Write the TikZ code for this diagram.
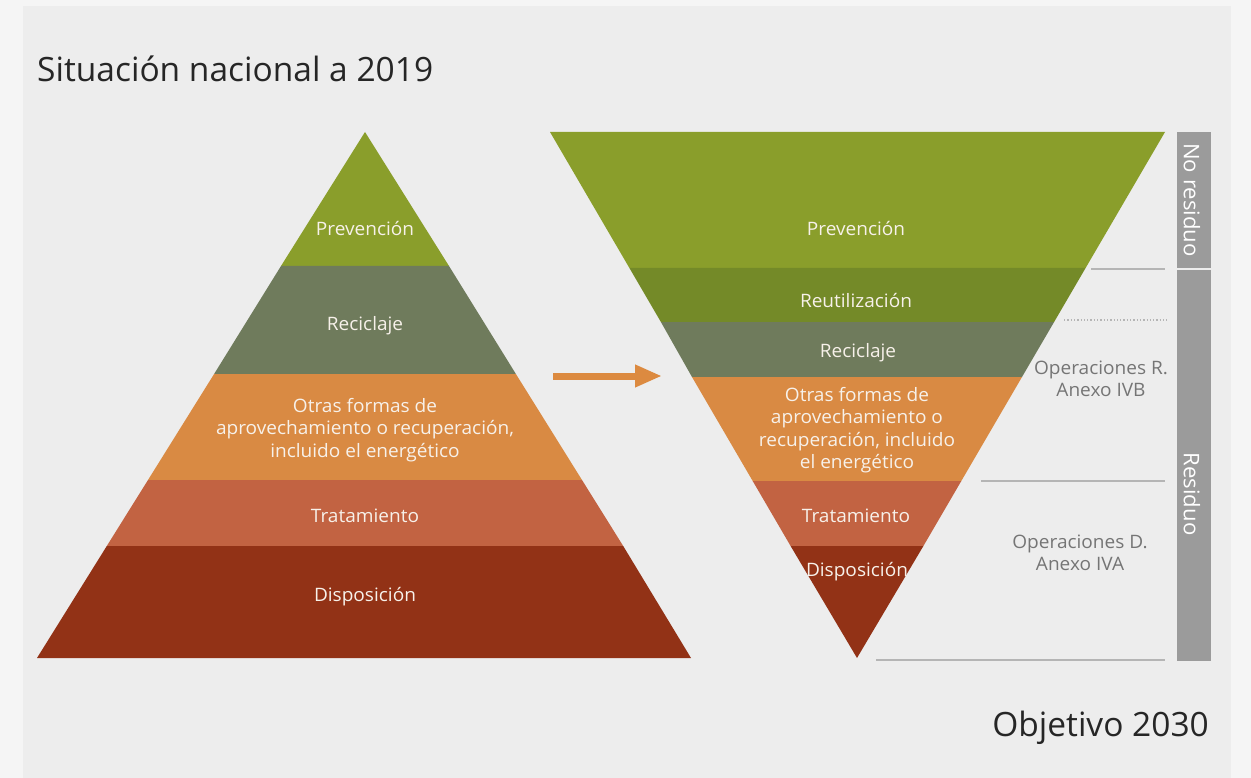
\documentclass[tikz,border=0pt]{standalone}
\usepackage{fontspec}
\setmainfont{Open Sans}[Ligatures=NoCommon]
\newfontfamily\widefont{Open Sans}[Ligatures=NoCommon, FakeStretch=1.03]
\usetikzlibrary{arrows.meta}
\definecolor{outerbg}{HTML}{F5F5F5}
\definecolor{panel}{HTML}{EDEDED}
\definecolor{cprev}{HTML}{8A9E2B}
\definecolor{creut}{HTML}{748A28}
\definecolor{crec}{HTML}{6F7B5C}
\definecolor{cotras}{HTML}{D98A43}
\definecolor{ctrat}{HTML}{C26342}
\definecolor{cdisp}{HTML}{923216}
\definecolor{cbar}{HTML}{9B9B9B}
\definecolor{cline}{HTML}{B5B5B5}
\definecolor{ctxt}{HTML}{757575}
\definecolor{cband}{HTML}{F7F1EA}
\definecolor{carrow}{HTML}{DC8A40}
\tikzset{
  bandtext/.style={text=cband, font=\widefont\fontsize{18.5}{22.5}\selectfont, align=center, inner sep=0pt},
  sidetext/.style={text=ctxt, font=\widefont\fontsize{18.5}{22.5}\selectfont, align=center, inner sep=0pt},
  bartext/.style={text=white, font=\widefont\fontsize{21.5}{22}\selectfont, rotate=-90, inner sep=0pt},
  title/.style={text=black!85, font=\fontsize{33.5}{36}\selectfont, inner sep=0pt},
  guide/.style={cline, line width=1.6pt},
}
\begin{document}
\begin{tikzpicture}[x=1pt,y=-1pt]
\useasboundingbox (0,0) rectangle (1251,778);
\fill[outerbg] (0,0) rectangle (1251,778);
\fill[panel] (23,6) rectangle (1231,778);

% ---- left pyramid: apex (365,132), base y=658 from 37 to 691
\fill[cprev] (365,132) -- (449.0,266) -- (281.0,266) -- cycle;
\fill[crec] (281.0,266) -- (449.0,266) -- (515.9,374) -- (214.1,374) -- cycle;
\fill[cotras] (214.1,374) -- (515.9,374) -- (582.0,480) -- (148.0,480) -- cycle;
\fill[ctrat] (148.0,480) -- (582.0,480) -- (623.2,546) -- (106.8,546) -- cycle;
\fill[cdisp] (106.8,546) -- (623.2,546) -- (691,658) -- (37,658) -- cycle;

\node[bandtext] (lprev) at (365,229) {Prevención};
\node[bandtext] (lrec) at (365,325.5) {Reciclaje};
\node[bandtext] (lotras) at (365,430) {Otras formas de\\aprovechamiento o recuperación,\\incluido el energético};
\node[bandtext] (ltrat) at (365,516) {Tratamiento};
\node[bandtext] (ldisp) at (365,596.5) {Disposición};

% ---- right inverted triangle: top y=132 from 550 to 1165, apex (857,658)
\fill[cprev] (550,132) -- (1165,132) -- (1085.6,268) -- (629.4,268) -- cycle;
\fill[creut] (629.4,268) -- (1085.6,268) -- (1054.1,322) -- (660.9,322) -- cycle;
\fill[crec] (660.9,322) -- (1054.1,322) -- (1022.0,377) -- (692.0,377) -- cycle;
\fill[cotras] (692.0,377) -- (1022.0,377) -- (961.3,481) -- (752.7,481) -- cycle;
\fill[ctrat] (752.7,481) -- (961.3,481) -- (923.4,546) -- (790.6,546) -- cycle;
\fill[cdisp] (790.6,546) -- (923.4,546) -- (857,658) -- cycle;

\node[bandtext] (rprev) at (856,229) {Prevención};
\node[bandtext] (rreut) at (856,301) {Reutilización};
\node[bandtext] (rrec) at (858,352.5) {Reciclaje};
\node[bandtext] (rotras) at (857,430) {Otras formas de\\aprovechamiento o\\recuperación, incluido\\el energético};
\node[bandtext] (rtrat) at (856,516) {Tratamiento};
\node[bandtext] (rdisp) at (857,572) {Disposición};

% ---- arrow
\coordinate (a1) at (553,376);
\coordinate (a2) at (662,376);
\draw[carrow, line width=7pt, -{Triangle[length=27pt,width=21pt]}] (a1) -- (a2);

% ---- guide lines
\draw[guide] (1091,269) -- (1165,269);
\draw[guide, line width=1.3pt, dotted] (1064,320) -- (1167,320);
\draw[guide] (981,481) -- (1165,481);
\draw[guide] (876,660) -- (1165,660);

\node[sidetext] (opr) at (1101,379) {Operaciones R.\\Anexo IVB};
\node[sidetext] (opd) at (1080,553) {Operaciones D.\\Anexo IVA};

% ---- side bars
\fill[cbar] (1177,132) rectangle (1211,268);
\fill[cbar] (1177,270) rectangle (1211,661);
\node[bartext] (nores) at (1192,200) {No residuo};
\node[bartext] (res) at (1192,494) {Residuo};

% ---- titles
\node[title, anchor=base west] (t1) at (37,82) {Situación nacional a 2019};
\node[title, anchor=base east] (t2) at (1209,736) {Objetivo 2030};
\end{tikzpicture}
\end{document}
